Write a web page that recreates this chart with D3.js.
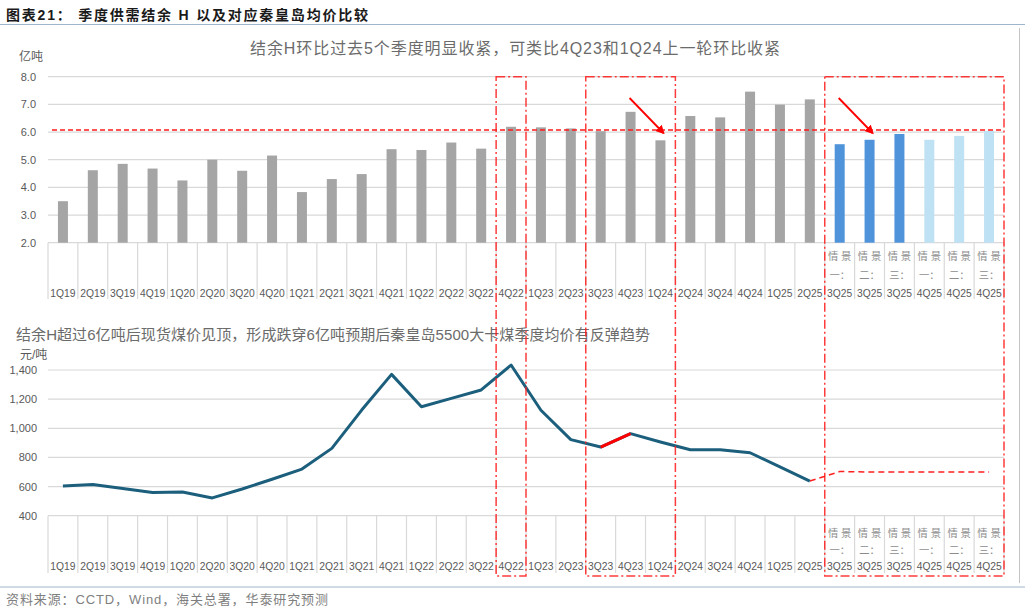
<!DOCTYPE html>
<html lang="zh">
    <head>
        <meta charset="utf-8">
        <script type="text/javascript" src="https://cdn.jsdelivr.net/npm/d3@7/dist/d3.min.js"></script>
        <style type="text/css">
            body {
              margin: 0;
              background: #ffffff;
            }
            text {
              font-family: "Liberation Sans", "Noto Sans CJK SC", sans-serif;
            }
            .tick-label {
              font-size: 11px;
              fill: #595959;
            }
            .cat-label {
              font-size: 10.3px;
              fill: #595959;
            }
        </style>
    </head>
    <body>
        <script type="text/javascript">
            // quarters on the shared x axis (the last six are forecast scenarios)
            var quarters = ["1Q19", "2Q19", "3Q19", "4Q19", "1Q20", "2Q20", "3Q20", "4Q20",
                            "1Q21", "2Q21", "3Q21", "4Q21", "1Q22", "2Q22", "3Q22", "4Q22",
                            "1Q23", "2Q23", "3Q23", "4Q23", "1Q24", "2Q24", "3Q24", "4Q24",
                            "1Q25", "2Q25", "3Q25", "3Q25", "3Q25", "4Q25", "4Q25", "4Q25"];
            var scenarioNames = ["", "", "", "", "", "", "", "", "", "", "", "", "", "", "", "",
                                 "", "", "", "", "", "", "", "", "", "",
                                 "一", "二", "三", "一", "二", "三"];

            // supply-demand surplus H (亿吨)
            var surplus = [3.50, 4.62, 4.85, 4.68, 4.25, 5.00, 4.60, 5.15,
                           3.83, 4.30, 4.48, 5.38, 5.35, 5.62, 5.40, 6.19,
                           6.17, 6.13, 6.03, 6.73, 5.70, 6.58, 6.53, 7.46,
                           6.99, 7.18, 5.56, 5.72, 5.93, 5.72, 5.86, 6.04];
            var threshold = 6.07;

            // Qinhuangdao 5500 kcal quarterly average price (元/吨)
            var price = [604, 614, 586, 559, 562, 522, 583, 650,
                         720, 862, 1125, 1370, 1148, 1205, 1263, 1434,
                         1124, 922, 871, 963, 906, 853, 853, 832,
                         735, 638];
            var priceForecast = [703, 700, 700, 700, 700, 700];

            // highlighted groups of quarters (first index, last index)
            var boxes = [[15, 15], [18, 20], [26, 31]];

            var yTicksTop = [2, 3, 4, 5, 6, 7, 8];
            var yTicksBottom = [400, 600, 800, 1000, 1200, 1400];

            var width = 1030, height = 611;
            var svg = d3.select("body")
              .append("svg")
              .attr("width", width)
              .attr("height", height);

            var idx = d3.range(quarters.length);

            // shared band scale for both panels
            var xScale = d3.scaleBand()
                           .domain(idx)
                           .range([48, 1004]);
            var xc = function(i) { return xScale(i) + xScale.bandwidth() / 2; };

            var yTop = d3.scaleLinear().domain([2, 8]).range([242.7, 76.7]);
            var yBot = d3.scaleLinear().domain([400, 1400]).range([515.7, 370]);

            // header
            svg.append("text")
              .attr("x", 6)
              .attr("y", 20)
              .style("font-size", "14px")
              .style("font-weight", "bold")
              .attr("fill", "#1a1a1a")
              .attr("textLength", 362)
              .attr("lengthAdjust", "spacing")
              .text("图表21：  季度供需结余 H 以及对应秦皇岛均价比较");
            svg.append("line")
              .attr("x1", 0).attr("x2", 1025)
              .attr("y1", 24.5).attr("y2", 24.5)
              .attr("stroke", "#9fb6ca")
              .attr("stroke-width", 1.2);
            svg.append("line")
              .attr("x1", 1019.5).attr("x2", 1019.5)
              .attr("y1", 28).attr("y2", 583)
              .attr("stroke", "#c4c4c4");

            // ---------- top panel: bars ----------
            svg.append("text")
              .attr("x", 515)
              .attr("y", 54)
              .attr("text-anchor", "middle")
              .attr("textLength", 530)
              .attr("lengthAdjust", "spacing")
              .style("font-size", "16px")
              .attr("fill", "#6b6b6b")
              .text("结余H环比过去5个季度明显收紧，可类比4Q23和1Q24上一轮环比收紧");

            svg.append("text")
              .attr("x", 19)
              .attr("y", 61)
              .style("font-size", "12px")
              .attr("fill", "#595959")
              .text("亿吨");

            var gTop = svg.append("g");

            // grid lines
            gTop.selectAll("line.grid")
              .data(yTicksTop)
              .enter()
              .append("line")
              .attr("x1", 48).attr("x2", 1004)
              .attr("y1", function(d) { return yTop(d); })
              .attr("y2", function(d) { return yTop(d); })
              .attr("stroke", "#d9d9d9")
              .attr("stroke-width", 1.2);

            gTop.selectAll("text.ylab")
              .data(yTicksTop)
              .enter()
              .append("text")
              .attr("class", "tick-label")
              .attr("x", 36)
              .attr("y", function(d) { return yTop(d) + 4; })
              .attr("text-anchor", "end")
              .text(function(d) { return d3.format(".1f")(d); });

            // bars, grey for history, blue for the scenarios
            gTop.selectAll("rect")
              .data(surplus)
              .enter()
              .append("rect")
              .attr("x", function(d, i) { return xc(i) - 5; })
              .attr("y", function(d) { return yTop(d); })
              .attr("width", 10)
              .attr("height", function(d) { return yTop(2) - yTop(d); })
              .attr("fill", function(d, i) {
                if (scenarioNames[i] === "") return "#a5a5a5";
                return quarters[i] === "3Q25" ? "#4f94da" : "#bfe1f4";
              });

            // 6 亿吨 reference line
            gTop.append("line")
              .attr("x1", 52).attr("x2", 1004)
              .attr("y1", yTop(threshold)).attr("y2", yTop(threshold))
              .attr("stroke", "#ff1a1a")
              .attr("stroke-width", 1.5)
              .attr("stroke-dasharray", "5,3");

            // category separators and labels of a panel
            function drawCategoryAxis(top, bottom, labelY, lineGap) {
              var g = svg.append("g");
              g.selectAll("line")
                .data(d3.range(quarters.length + 1))
                .enter()
                .append("line")
                .attr("x1", function(i) { return 48 + i * xScale.step(); })
                .attr("x2", function(i) { return 48 + i * xScale.step(); })
                .attr("y1", top).attr("y2", bottom)
                .attr("stroke", "#d9d9d9")
                .attr("stroke-width", 1.2);

              var lab = g.selectAll("g.lab")
                .data(idx)
                .enter()
                .append("g");
              lab.append("text")
                .attr("class", "cat-label")
                .attr("x", function(i) { return xc(i); })
                .attr("y", labelY)
                .attr("text-anchor", "middle")
                .text(function(i) { return quarters[i]; });
              lab.filter(function(i) { return scenarioNames[i] !== ""; })
                .append("text")
                .attr("class", "cat-label")
                .attr("x", function(i) { return xc(i); })
                .attr("y", labelY - lineGap)
                .attr("text-anchor", "middle")
                .style("fill", "#8c8c8c")
                .text(function(i) { return scenarioNames[i] + "："; });
              lab.filter(function(i) { return scenarioNames[i] !== ""; })
                .append("text")
                .attr("class", "cat-label")
                .attr("x", function(i) { return xc(i); })
                .attr("y", labelY - 2 * lineGap)
                .attr("text-anchor", "middle")
                .style("fill", "#8c8c8c")
                .text("情 景");
            }

            drawCategoryAxis(242.7, 299, 297, 18.5);

            // ---------- bottom panel: price line ----------
            svg.append("text")
              .attr("x", 16)
              .attr("y", 340)
              .attr("textLength", 634)
              .attr("lengthAdjust", "spacing")
              .style("font-size", "15px")
              .attr("fill", "#6b6b6b")
              .text("结余H超过6亿吨后现货煤价见顶，形成跌穿6亿吨预期后秦皇岛5500大卡煤季度均价有反弹趋势");

            svg.append("text")
              .attr("x", 20)
              .attr("y", 359)
              .style("font-size", "12px")
              .attr("fill", "#595959")
              .text("元/吨");

            var gBot = svg.append("g");

            gBot.selectAll("line.grid")
              .data(yTicksBottom)
              .enter()
              .append("line")
              .attr("x1", 48).attr("x2", 1004)
              .attr("y1", function(d) { return yBot(d); })
              .attr("y2", function(d) { return yBot(d); })
              .attr("stroke", "#d9d9d9")
              .attr("stroke-width", 1.2);

            gBot.selectAll("text.ylab")
              .data(yTicksBottom)
              .enter()
              .append("text")
              .attr("class", "tick-label")
              .attr("x", 37)
              .attr("y", function(d) { return yBot(d) + 4; })
              .attr("text-anchor", "end")
              .text(function(d) { return d3.format(",")(d); });

            drawCategoryAxis(515.7, 573, 570, 16.5);

            var line = d3.line()
              .x(function(d) { return xc(d[0]); })
              .y(function(d) { return yBot(d[1]); });

            var actual = price.map(function(d, i) { return [i, d]; });

            // forecast, dashed, starting from the last actual quarter
            var forecast = [actual[actual.length - 1]].concat(priceForecast.map(function(d, i) {
              return [price.length + i, d];
            }));
            gBot.append("path")
              .attr("d", line(forecast))
              .attr("fill", "none")
              .attr("stroke", "#ff2020")
              .attr("stroke-width", 1.5)
              .attr("stroke-dasharray", "6,4");

            gBot.append("path")
              .attr("d", line(actual))
              .attr("fill", "none")
              .attr("stroke", "#1c5f7d")
              .attr("stroke-width", 3)
              .attr("stroke-linejoin", "round");

            // rebound 3Q23 -> 4Q23 in red
            gBot.append("path")
              .attr("d", line(actual.slice(18, 20)))
              .attr("fill", "none")
              .attr("stroke", "#ff0000")
              .attr("stroke-width", 3);

            // ---------- highlight boxes and arrows ----------
            svg.selectAll("rect.box")
              .data(boxes)
              .enter()
              .append("rect")
              .attr("x", function(d) { return xScale(d[0]); })
              .attr("y", yTop(8))
              .attr("width", function(d) { return xScale(d[1]) + xScale.step() - xScale(d[0]); })
              .attr("height", 576 - yTop(8))
              .attr("fill", "none")
              .attr("stroke", "#ff1a1a")
              .attr("stroke-opacity", 0.85)
              .attr("stroke-width", 1.5)
              .attr("stroke-dasharray", "9,3,2,3");

            svg.append("defs").append("marker")
              .attr("id", "arrow")
              .attr("viewBox", "0 0 10 10")
              .attr("refX", 8).attr("refY", 5)
              .attr("markerWidth", 5).attr("markerHeight", 5)
              .attr("orient", "auto")
              .append("path")
              .attr("d", "M0,0 L10,5 L0,10 z")
              .attr("fill", "#ff0000");

            // arrows from the previous quarter toward the tightening quarter
            var arrows = [[19, 20], [26, 27]];
            svg.selectAll("line.arrow")
              .data(arrows)
              .enter()
              .append("line")
              .attr("x1", function(d) { return xc(d[0]) - 1; })
              .attr("y1", 98)
              .attr("x2", function(d) { return xc(d[1]) + 3; })
              .attr("y2", 133)
              .attr("stroke", "#ff0000")
              .attr("stroke-width", 1.8)
              .attr("marker-end", "url(#arrow)");

            // footer
            svg.append("line")
              .attr("x1", 0).attr("x2", 1025)
              .attr("y1", 587).attr("y2", 587)
              .attr("stroke", "#9fb6ca")
              .attr("stroke-width", 1.2);
            svg.append("text")
              .attr("x", 6)
              .attr("y", 604)
              .style("font-size", "13px")
              .attr("fill", "#7f7f7f")
              .attr("textLength", 322)
              .attr("lengthAdjust", "spacing")
              .text("资料来源：CCTD，Wind，海关总署，华泰研究预测");
        </script>
    </body>
</html>
